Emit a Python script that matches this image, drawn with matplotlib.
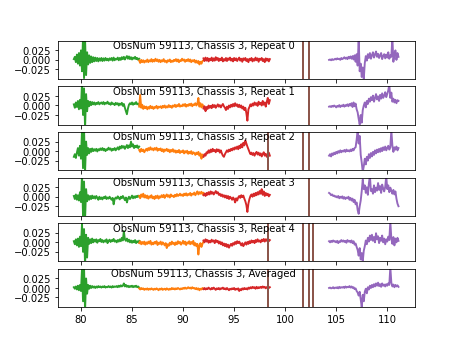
import matplotlib
matplotlib.use('Agg')
import matplotlib.pyplot as plt
import numpy as np

# spectral segments (GHz); residuals below are in units of 1e-3
seg_bounds = {'green': (79.3, 85.7), 'orange': (85.7, 92.0),
              'red': (92.0, 98.5), 'purple': (104.3, 111.1)}
seg_colors = {'green': 'C2', 'orange': 'C1', 'red': 'C3', 'purple': 'C4'}

labels = ['Repeat 0', 'Repeat 1', 'Repeat 2', 'Repeat 3', 'Repeat 4', 'Averaged']

# flagged channels per repeat
flagged = [
    [101.7, 102.3],
    [102.3],
    [98.35, 101.7, 102.3],
    [102.3],
    [98.35, 101.7, 102.3, 102.7],
    [98.35, 101.7, 102.3, 102.7],
]

rep0 = {
    'green': [2, 8, -6, 14, -10, 18, -15,
              25, -30, 60, -48, 55, -40, 20,
              -12, 12, -8, 9, -6, 7, -4,
              6, -3, 5, -4, 4, -2, 5,
              -3, 4, -2, 5, -1, 3, -2,
              4, 0, 5, -2, 6, -1, 3,
              1, 6, -1, 5, 0, 7, 2,
              8, 1, 6, 10, 3, 9, 2,
              7, 1, 6, 3, 8, 2, 5,
              0, 3],
    'orange': [-2, -8, 0, -6, -1, -7, -2,
               -5, 1, -6, -1, -4, 2, -5,
               0, -4, 3, -3, 1, -5, 0,
               -6, -1, -4, 2, -5, -2, -7,
               -1, -4, 1, -6, -2, -5, 0,
               -3, 2, -4, 1, -6, -1, -3,
               3, -2, 1, -5, 0, -3, 2,
               -4, 1, -6, -1, -4, 0, -7,
               -2, -8, -3, -12, -5, -10, -3,
               -1],
    'red': [4, -3, 6, -2, 5, -4, 3,
            -1, 6, -3, 4, -2, 7, 0,
            5, -3, 3, -1, 6, -4, 2,
            -2, 5, -3, 4, 0, 6, -2,
            3, -4, 5, -1, 4, -3, 2,
            6, -2, 3, -5, 4, 0, 5,
            -3, 2, -6, 3, -1, 5, -4,
            2, -2, 6, -1, 4, -5, 3,
            0, 5, -3, 2, -6, 4, -2,
            3, -4, 2],
    'purple': [0, 1, -1, 2, 0, 1, 3,
               1, 4, 2, 3, 0, 5, 2,
               4, 7, 3, 6, 2, 8, 4,
               9, 3, 10, 1, 12, -5, 15,
               -15, 55, -30, -10, -45, -20, -50,
               -8, 10, -2, 15, 5, 18, 3,
               12, 20, 6, 14, 22, 8, 16,
               5, 12, 18, 2, 10, 15, 4,
               14, 6, 20, 3, 12, 8, 60,
               -5, 15, 25, 0, 18, 8],
}

rep1 = {
    'green': [3, -6, 8, -4, 12, -10, 15,
              -8, 60, -25, 45, -60, 30, -15,
              12, -2, 10, 1, 9, 3, 8,
              2, 7, 4, 9, 3, 6, 8,
              4, 9, 3, 7, 5, 10, 4,
              6, 2, 8, 4, 5, 1, 7,
              3, 6, 0, 5, 2, 7, -1,
              4, -6, -15, -23, -8, 2, 6,
              3, 8, 2, 6, 4, 9, 3,
              5, 1],
    'orange': [-3, 28, -6, 2, -9, -2, -7,
               -3, -10, -4, -8, -1, -7, -3,
               -9, -4, -6, -1, -8, -3, -5,
               -2, -7, -1, -5, 0, -6, -2,
               -5, 1, -4, -1, -6, 0, -3,
               2, -4, 1, -2, 4, -3, 0,
               -2, 3, -1, 4, -3, 2, -1,
               4, 0, 5, -2, 3, 1, 6,
               0, 4, 20, -3, 6, -5, 3,
               -4],
    'red': [-8, -2, -15, -4, -9, 0, -6,
            -1, -7, 2, -4, 1, -6, -2,
            3, -3, 1, -5, 0, 4, -2,
            -6, -12, -3, -9, 0, -5, 2,
            -3, 4, -2, 6, -1, 3, -4,
            2, -5, 0, -8, -3, -12, -6,
            -20, -40, -10, -4, 3, -2, 5,
            0, 8, 2, 6, -1, 10, 3,
            7, 0, 12, 2, 8, -3, 10,
            20, 4, 14],
    'purple': [-3, -2, -4, -1, -3, 0, -2,
               -5, -1, -3, 1, -4, 0, -2,
               2, -3, 1, -1, 3, -2, 4,
               0, 6, -4, 8, -2, 5, -10,
               -18, -35, -50, -25, -45, -12, 0,
               8, -5, 12, 4, 18, 10, 22,
               14, 26, 10, 20, 30, 16, 24,
               12, 28, 18, 32, 20, 26, 35,
               22, 30, 40, 55, 20, 34, 10,
               18, 8, 15, 6, 14, 12],
}

rep2 = {
    'green': [-15, -8, -18, -4, 8, -12, 14,
              -20, 55, -45, 60, -55, 25, -10,
              8, -6, 6, -2, 7, 0, 5,
              1, 6, -1, 5, 2, 7, 3,
              8, 2, 6, 0, 5, 3, 9,
              4, 7, 1, 6, 3, 8, 2,
              6, 10, 4, 12, 7, 14, 9,
              13, 6, 11, 16, 8, 15, 10,
              25, 12, 18, 8, 14, 10, 15,
              8, 12],
    'orange': [3, -2, 6, 0, 4, -3, 2,
               6, 1, 8, 3, 10, 4, 7,
               2, 8, 4, 9, 1, 6, 3,
               7, 0, 5, -2, 4, 1, 6,
               0, 4, -3, 3, -1, 5, -2,
               2, -4, 1, -3, 3, -5, 0,
               -3, 2, -6, 0, -4, 1, -7,
               -2, -6, 0, -8, -3, -5, -10,
               -4, -8, -2, -12, -6, -20, -9,
               -13],
    'red': [-15, -8, -12, -3, -6, 2, -4,
            4, -2, 6, 0, 3, -3, 5,
            0, 4, -4, 2, -6, -12, -15,
            -8, -3, 2, -2, 4, 0, 6,
            2, 8, 4, 10, 6, 12, 5,
            14, 8, 18, 10, 22, 15, 28,
            20, 12, 5, -2, -8, -4, -10,
            -5, -12, -6, -2, -9, -4, -11,
            -6, -14, -8, -3, -12, -7, -15,
            -9, -4, -12],
    'purple': [-12, -8, -14, -6, -10, -4, -8,
               -2, -6, 0, -4, 2, -3, 1,
               -1, 3, -2, 4, 0, 2, -1,
               4, 0, 6, 2, 8, 10, 30,
               55, 20, 40, -10, -30, -55, -40,
               -20, -35, -15, -25, -8, -18, -5,
               -14, -2, -10, 2, -6, 4, -3,
               6, -2, 8, 0, 10, 3, 12,
               2, 8, 14, 4, 10, 55, 15,
               -2, 10, 4, 12, 2, 8],
}

rep3 = {
    'green': [2, -6, 6, -8, 4, -10, 12,
              -14, 60, -50, 40, -60, 20, -12,
              4, -8, 2, -6, 3, -4, 1,
              -5, 2, -3, -8, 0, -6, -2,
              -7, -1, -4, 1, -6, -2, -5,
              0, -4, -8, -3, -20, -6, -2,
              -5, 1, -3, -7, 0, -4, 2,
              -3, -9, -2, -15, -5, 0, -6,
              -2, 3, -4, 1, -3, 2, -1,
              3, 0],
    'orange': [2, -4, 6, 0, 8, -2, 4,
               -3, 3, -5, 1, -2, 4, -4,
               0, -6, 2, -3, 3, -5, 1,
               -2, 4, -1, 5, -3, 2, 6,
               0, 4, -2, 6, 1, 3, -1,
               5, 1, 7, 2, 4, 8, 3,
               6, 2, 8, 4, 9, 3, 7,
               5, 10, 3, 8, 6, 11, 4,
               9, 14, 6, 12, 8, 13, 7,
               10],
    'red': [4, 8, 2, 10, 5, 12, 6,
            14, 8, 12, 6, 10, 15, 9,
            12, 5, 8, 2, 6, 0, 4,
            -2, 3, -4, 2, -6, 0, -3,
            -8, -2, -6, -15, -4, -10, -2,
            2, -3, 4, -1, 3, -5, -12,
            -22, -40, -18, -6, 2, 6, 0,
            8, 2, 10, 4, 12, 6, 15,
            8, 20, 5, 14, 2, 10, 4,
            8, 1, 5],
    'purple': [10, 8, 4, 6, 2, 3, 0,
               1, -2, 2, -4, 0, -3, 1,
               -5, -1, -6, -2, -4, 0, -8,
               -3, -10, -5, -14, -8, -20, -15,
               -35, -45, -25, -10, 15, 45, 20,
               30, 10, 25, 5, 35, 55, 15,
               20, 8, 30, 12, 24, 16, 36,
               18, 28, 10, 32, 22, 14, 26,
               55, 20, 30, 12, 24, 16, 8,
               18, 6, 14, -5, -18, -25],
}

rep4 = {
    'green': [3, -5, 8, -8, 10, -12, 15,
              -10, 50, -25, 35, -60, 20, -40,
              12, -4, 8, -2, 10, 0, 7,
              2, 8, -1, 6, 3, 9, 1,
              6, 0, 5, 2, 8, -2, 4,
              7, 1, 6, 3, 9, 2, 5,
              0, 6, 2, 8, 3, 12, 5,
              30, 8, 4, 10, 2, 7, 0,
              5, -1, 4, 0, 6, -2, 3,
              0, 4],
    'orange': [-2, 3, -5, 1, -4, 2, -6,
               0, -4, 2, -3, 4, -6, -1,
               -5, 1, -3, 3, -7, -1, -4,
               2, -6, 0, -3, -8, -2, -15,
               -5, -9, -1, -6, 2, -4, -1,
               -7, 0, -5, 3, -3, 1, -6,
               -2, 4, -4, 2, -7, 0, -3,
               3, -5, 1, -4, 4, -8, -2,
               -10, -4, -32, -8, -2, -12, -4,
               2],
    'red': [5, 0, 8, 2, 6, -1, 4,
            0, 7, 2, 5, -2, 6, 1,
            4, -3, 2, -5, 0, -8, -3,
            -10, -4, -12, -6, -14, -8, -4,
            -9, -2, -6, 1, -4, 3, -2,
            2, -3, -8, -2, -10, -5, 0,
            -6, 1, -4, 3, -2, 5, 0,
            4, -2, 6, 1, 8, 2, 5,
            0, 7, 3, 9, 2, 8, 4,
            10, 3, 6],
    'purple': [3, 0, 4, 1, 5, 2, 3,
               0, 4, -2, 3, 1, 6, 2,
               5, 1, 4, -1, 6, 2, 4,
               0, 5, -2, 3, -6, -3, -12,
               -20, -35, -15, -45, -28, -50, -22,
               -10, 5, -5, 12, 2, 18, 6,
               20, 4, 14, 0, 24, 8, 16,
               -2, 12, 4, 18, 0, 10, -5,
               8, 2, 15, 6, 55, 10, -4,
               14, -8, 10, 0, 12, 4],
}

avg = {
    'green': [2, -2, 4, -4, 6, -6, 8,
              -8, 50, -35, 55, -60, 25, -15,
              8, -2, 6, 0, 5, 1, 4,
              0, 4, 1, 5, 2, 4, 1,
              4, 2, 5, 1, 3, 2, 5,
              2, 4, 1, 5, 2, 4, 3,
              5, 2, 6, 3, 7, 4, 6,
              12, 4, 8, 3, 6, 2, 5,
              3, 6, 2, 5, 3, 6, 2,
              4, 1],
    'orange': [-1, -4, 0, -3, -1, -5, -2,
               -4, -1, -5, -2, -4, -1, -3,
               -5, -2, -4, -1, -3, -6, -2,
               -4, -1, -5, -3, -2, -5, -1,
               -3, -5, -2, -4, 0, -3, -1,
               -4, -1, -3, 0, -2, -4, -1,
               -3, 0, -2, 1, -2, -1, 2,
               -1, 1, -2, 2, -1, 0, -3,
               0, -4, -1, -6, -2, -4, 0,
               -2],
    'red': [-3, 0, -4, -1, -3, 1, -2,
            -4, 0, -3, 1, -2, -5, -1,
            -3, 0, -4, -1, -2, 1, -3,
            -1, -4, 0, -3, -6, -2, -4,
            -1, -3, 0, -5, -2, -4, -1,
            -8, -3, -6, -1, -4, 0, -3,
            -1, -4, 1, -2, 2, -1, 3,
            0, 2, -2, 3, -1, 2, 0,
            3, 0, 4, 1, 3, -1, 2,
            4, 0, 2],
    'purple': [0, 1, -1, 0, 2, -1, 1,
               0, 2, -1, 3, 0, 2, 1,
               3, 0, 4, 1, 3, 2, 5,
               1, 4, 0, 2, -3, -1, -8,
               -12, -20, -10, -30, -50, -18, -35,
               -10, -2, -14, 2, -4, 6, 0,
               8, 2, 10, 4, 12, 6, 14,
               5, 10, 3, 12, 6, 9, 4,
               10, 6, 12, 8, 55, 14, 4,
               9, 2, 8, 4, 7, 3],
}

residuals = [rep0, rep1, rep2, rep3, rep4, avg]

fig, axes = plt.subplots(6, 1, sharex=True, figsize=(6.4, 4.8), dpi=72)
for ax, res, lab, flags in zip(axes, residuals, labels, flagged):
    for seg in ['green', 'orange', 'red', 'purple']:
        vals = np.array(res[seg]) * 1e-3
        lo, hi = seg_bounds[seg]
        freq = np.linspace(lo, hi, len(vals))
        ax.plot(freq, vals, color=seg_colors[seg], lw=1.9)
    for f in flags:
        ax.axvline(f, color='C5', lw=2)
    ax.set_ylim(-0.05, 0.05)
    ax.set_yticks([-0.025, 0.0, 0.025])
    ax.text(92.0, 0.03, 'ObsNum 59113, Chassis 3, ' + lab, ha='center')

plt.savefig('out.png', dpi=72)
